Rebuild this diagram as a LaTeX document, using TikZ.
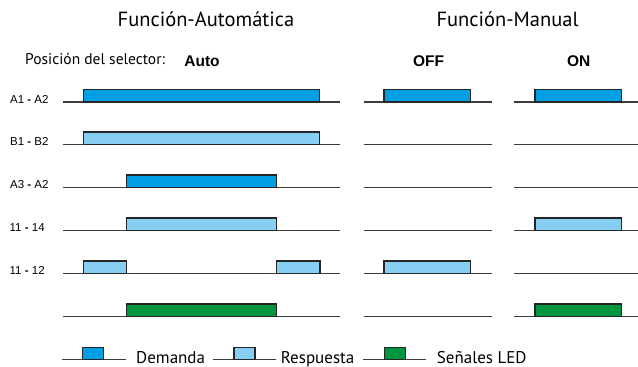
\documentclass[tikz,border=0pt]{standalone}
\usepackage{fontspec}
\setmainfont{PT Sans}
\newfontfamily\arialf{Liberation Sans}
\definecolor{dblue}{RGB}{0,158,226}
\definecolor{lblue}{RGB}{134,206,242}
\definecolor{sgreen}{RGB}{0,150,64}
\definecolor{lineg}{RGB}{60,60,60}
\newcommand\sigpulse[4]{\filldraw[pulsebox,fill=#4] (#1,#3) rectangle (#2,#3-12.5);}
\newcommand\bdash{{\bfseries -}}
\begin{document}
\begin{tikzpicture}[x=1pt,y=-1pt,
  sigline/.style={draw=lineg,line width=1.1pt},
  pulsebox/.style={draw=black!85,line width=1.1pt},
  rowlab/.style={font=\arialf\fontsize{11.5}{13}\selectfont,anchor=base west,inner sep=0pt},
  titlelab/.style={font=\fontsize{20.5}{24}\selectfont,anchor=base,inner sep=0pt},
  sellab/.style={font=\fontsize{15.5}{19}\selectfont,anchor=base west,inner sep=0pt},
  modelab/.style={font=\arialf\bfseries\fontsize{15.5}{18}\selectfont,anchor=base,inner sep=0pt},
  leglab/.style={font=\fontsize{17}{20}\selectfont,anchor=base west,inner sep=0pt}]
\useasboundingbox (0,0) rectangle (638,367);

% titles
\node[titlelab] (tauto) at (206,26) {Función-Automática};
\node[titlelab] (tman) at (507.5,26) {Función-Manual};
\node[sellab] (sel) at (25,64.5) {Posición del selector:};
\node[modelab] (mauto) at (202,66.5) {Auto};
\node[modelab] (moff) at (428.5,66.5) {OFF};
\node[modelab] (mon) at (578.7,66.5) {ON};

% row labels
\node[rowlab] (r1) at (10,103) {A1 \bdash{} A2};
\node[rowlab] (r2) at (10,145.5) {B1 \bdash{} B2};
\node[rowlab] (r3) at (10,188.5) {A3 \bdash{} A2};
\node[rowlab] (r4) at (9.5,231.5) {11 \bdash{} 14};
\node[rowlab] (r5) at (9.5,274.5) {11 \bdash{} 12};

% base lines
\foreach \yy in {102,144.5,187.5,230.5,273.5,316.5}{
  \draw[sigline] (63,\yy) -- (340,\yy);
  \draw[sigline] (363.5,\yy) -- (491.5,\yy);
  \draw[sigline] (514,\yy) -- (638,\yy);
}

% Auto
\sigpulse{83.3}{319.5}{102}{dblue}
\sigpulse{83.3}{319.5}{144.5}{lblue}
\sigpulse{126.7}{276.7}{187.5}{dblue}
\sigpulse{126.7}{276.7}{230.5}{lblue}
\sigpulse{83.3}{126.7}{273.5}{lblue}
\sigpulse{276.7}{320}{273.5}{lblue}
\sigpulse{126.7}{276.7}{316.5}{sgreen}
% OFF
\sigpulse{384}{470.5}{102}{dblue}
\sigpulse{384}{470.5}{273.5}{lblue}
% ON
\sigpulse{535}{621.5}{102}{dblue}
\sigpulse{535}{621.5}{230.5}{lblue}
\sigpulse{535}{621.5}{316.5}{sgreen}

% legend
\draw[sigline] (62.3,359.3) -- (126,359.3);
\filldraw[pulsebox,fill=dblue] (82.7,359.3) rectangle (103.7,347.7);
\node[leglab] (ldem) at (136,363.3) {Demanda};
\draw[sigline] (212.7,359.3) -- (276,359.3);
\filldraw[pulsebox,fill=lblue] (234,359.3) rectangle (255,347.7);
\node[leglab] (lres) at (280.7,363.3) {Respuesta};
\draw[sigline] (362.7,359.3) -- (426,359.3);
\filldraw[pulsebox,fill=sgreen] (384.3,359.3) rectangle (405.3,347.7);
\node[leglab] (lled) at (436.7,363.3) {Señales LED};
\end{tikzpicture}
\end{document}
